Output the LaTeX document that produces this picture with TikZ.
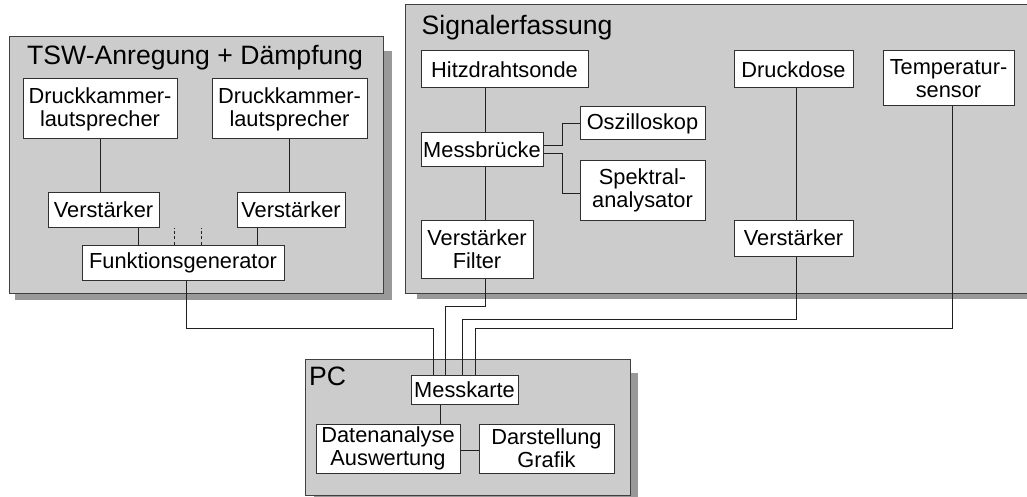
\documentclass[tikz,border=0pt]{standalone}
\usepackage{fontspec}
\setmainfont{Liberation Sans}
\definecolor{groupgray}{HTML}{CCCCCC}
\definecolor{shadowgray}{HTML}{999999}
\definecolor{framegray}{HTML}{404040}
\definecolor{boxline}{HTML}{303030}
\definecolor{wiregray}{HTML}{202020}
\begin{document}
\begin{tikzpicture}[x=1pt,y=-1pt,
  groupbox/.style={draw=framegray, fill=groupgray, line width=1pt},
  shadowbox/.style={fill=shadowgray},
  unit/.style={draw=boxline, fill=white, line width=1pt, inner sep=0pt,
    align=center, font=\fontsize{21.8}{23}\selectfont},
  grouptitle/.style={anchor=base west, inner sep=0pt,
    font=\fontsize{26.6}{30}\selectfont},
  wire/.style={draw=wiregray, line width=1pt},
  stub/.style={wire, dash pattern=on 3pt off 2.5pt}
]
\useasboundingbox (0,0) rectangle (1027,497);
\clip (0,0) rectangle (1027,497);

% group backgrounds with drop shadows
\fill[shadowbox] (15,51) rectangle (392,300);
\path[groupbox] (9,37) rectangle (383,293);
\fill[shadowbox] (417,20) rectangle (1040,299);
\path[groupbox] (405,5) rectangle (1040,293);
\fill[shadowbox] (314,373) rectangle (638,505);
\path[groupbox] (305,359) rectangle (630,495);

\node[grouptitle] (tswtitle) at (27,65) {TSW-Anregung + Dämpfung};
\node[grouptitle] (sigtitle) at (421.5,35) {Signalerfassung};
\node[grouptitle] (pctitle) at (309,385) {PC};

% excitation units
\node[unit, minimum width=154, minimum height=60] (dk1) at (100,109) {Druckkammer-\\lautsprecher};
\node[unit, minimum width=155, minimum height=60] (dk2) at (289.5,109) {Druckkammer-\\lautsprecher};
\node[unit, minimum width=111, minimum height=35] (v1) at (103.5,209.5) {Verstärker};
\node[unit, minimum width=108, minimum height=35] (v2) at (291,209.5) {Verstärker};
\node[unit, minimum width=202, minimum height=35] (fg) at (183,262.5) {Funktionsgenerator};

% acquisition units
\node[unit, minimum width=167, minimum height=37] (hz) at (504.5,69.5) {Hitzdrahtsonde};
\node[unit, minimum width=122, minimum height=34] (mb) at (482,150) {Messbrücke};
\node[unit, minimum width=125, minimum height=33] (osz) at (642.5,123.5) {Oszilloskop};
\node[unit, minimum width=125, minimum height=59] (sp) at (642.5,190.5) {Spektral-\\analysator};
\node[unit, minimum width=112, minimum height=58] (vf) at (477,249) {Verstärker\\Filter};
\node[unit, minimum width=119, minimum height=37] (dd) at (793.5,69.5) {Druckdose};
\node[unit, minimum width=119, minimum height=36] (vd) at (793.5,238) {Verstärker};
\node[unit, minimum width=131, minimum height=55] (ts) at (948.5,78.5) {Temperatur-\\sensor};

% PC units
\node[unit, minimum width=107, minimum height=29] (mk) at (464.5,389.5) {Messkarte};
\node[unit, minimum width=144, minimum height=49] (da) at (388,448.5) {Datenanalyse\\Auswertung};
\node[unit, minimum width=135, minimum height=49] (gr) at (546.5,448.5) {Darstellung\\Grafik};

% connectors inside the excitation group
\draw[wire] (dk1.south) -- (dk1.south |- v1.north);
\draw[wire] (dk2.south) -- (dk2.south |- v2.north);
\draw[wire] ([xshift=34.5pt]v1.south) -- ([xshift=34.5pt]v1.south |- fg.north);
\draw[wire] ([xshift=-34pt]v2.south) -- ([xshift=-34pt]v2.south |- fg.north);
\draw[stub] ([xshift=-9pt]fg.north) -- ([xshift=-9pt]fg.north |- v1.south);
\draw[stub] ([xshift=18pt]fg.north) -- ([xshift=18pt]fg.north |- v1.south);

% connectors inside the acquisition group
\draw[wire] ([xshift=-19.5pt]hz.south) -- ([xshift=-19.5pt]hz.south |- mb.north);
\draw[wire] ([xshift=3pt]mb.south) -- ([xshift=3pt]mb.south |- vf.north);
\draw[wire] ([yshift=4pt]mb.east) -- ++(19,0) |- (osz.west);
\draw[wire] ([yshift=-4pt]mb.east) -- ++(19,0) |- ([yshift=-2.5pt]sp.west);
\draw[wire] ([xshift=2.5pt]dd.south) -- ([xshift=2.5pt]dd.south |- vd.north);

% signal lines to the measurement card
\draw[wire] ([xshift=3pt]fg.south) -- ++(0,48) -| ([xshift=-31.5pt]mk.north);
\draw[wire] ([xshift=8pt]vf.south) -- ++(0,28) -| ([xshift=-19.5pt]mk.north);
\draw[wire] ([xshift=2.5pt]vd.south) -- ++(0,63) -| ([xshift=-2.5pt]mk.north);
\draw[wire] ([xshift=4pt]ts.south) -- ++(0,222) -| ([xshift=10.5pt]mk.north);

% connectors inside the PC
\draw[wire] ([xshift=-24.5pt]mk.south) -- ([xshift=-24.5pt]mk.south |- da.north);
\draw[wire] ([yshift=-1.5pt]da.east) -- ([yshift=-1.5pt]da.east -| gr.west);
\end{tikzpicture}
\end{document}
